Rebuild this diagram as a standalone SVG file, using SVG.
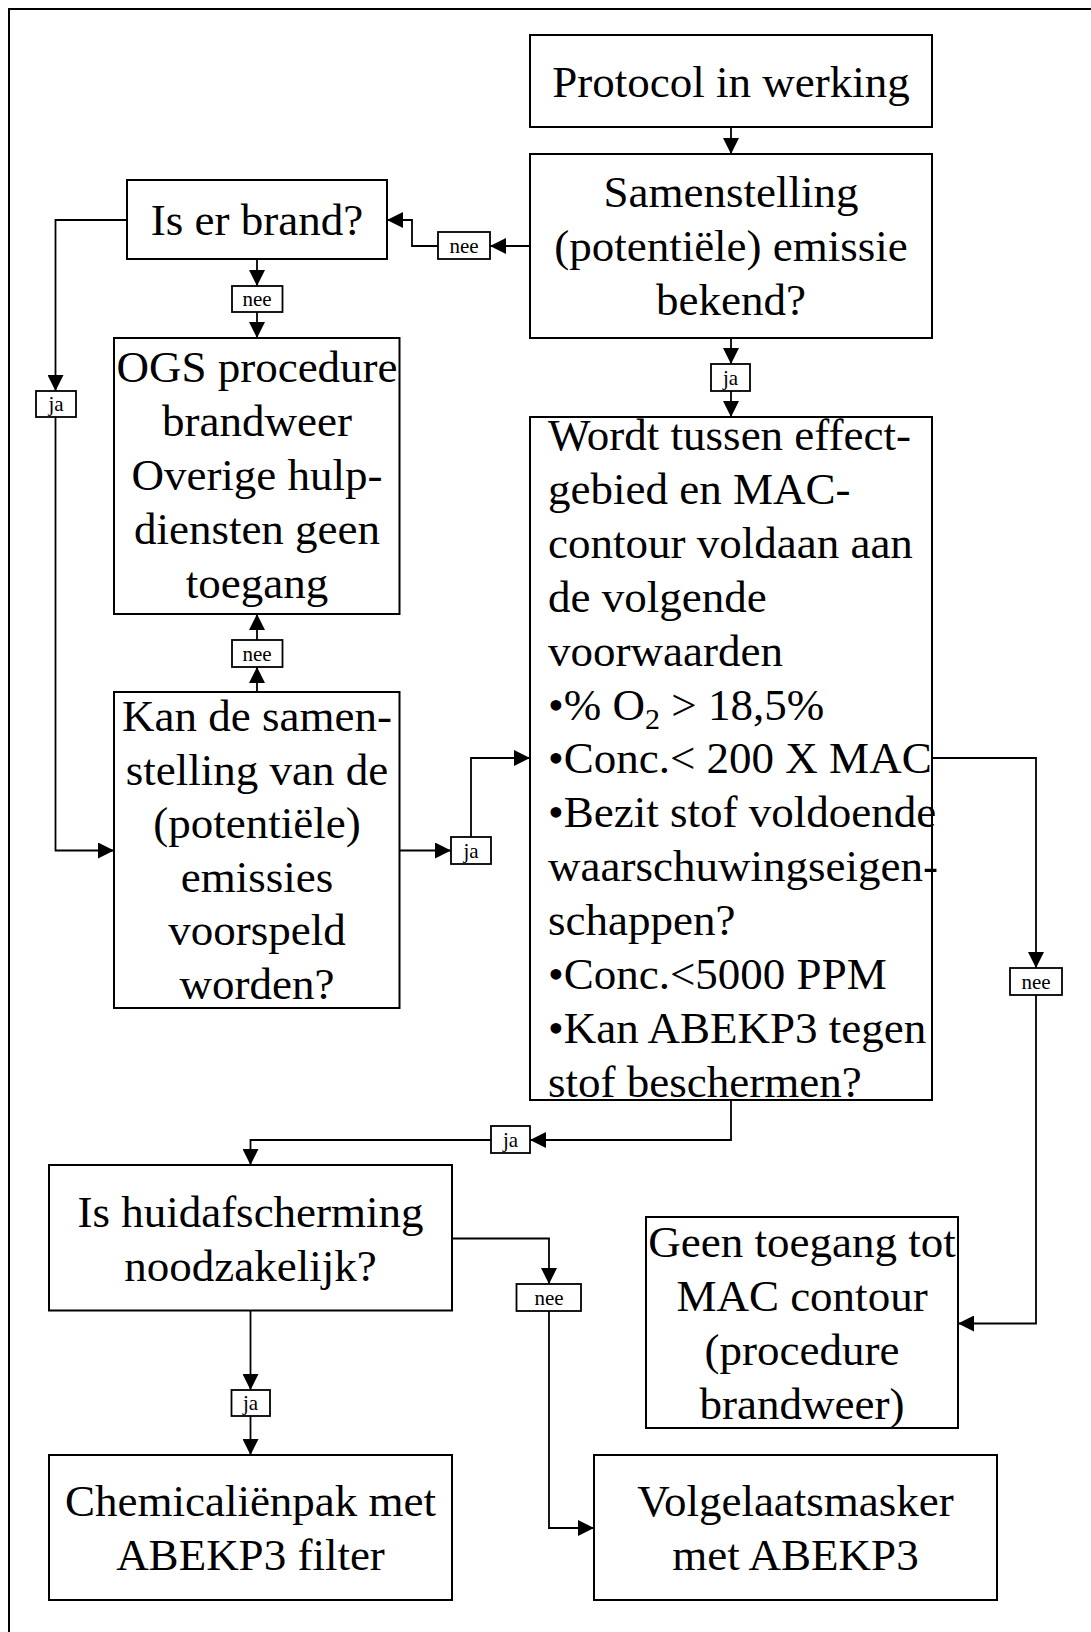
<svg xmlns="http://www.w3.org/2000/svg" width="1091" height="1632" viewBox="0 0 1091 1632">
<style>
.box{fill:#fff;stroke:#000;stroke-width:2}
.lbl{fill:#fff;stroke:#000;stroke-width:1.8}
.t{font-family:"Liberation Serif","Times New Roman",serif;font-size:45px;fill:#000}
.c{text-anchor:middle}
.s{font-family:"Liberation Serif","Times New Roman",serif;font-size:21px;fill:#000;text-anchor:middle}
.ln{fill:none;stroke:#000;stroke-width:1.8;marker-end:url(#ah)}
</style>
<defs>
<marker id="ah" markerUnits="userSpaceOnUse" markerWidth="16" markerHeight="16" refX="16" refY="8" orient="auto">
<path d="M0,0 L16,8 L0,16 z" fill="#000"/>
</marker>
<clipPath id="wclip"><rect x="520" y="410" width="500" height="690"/></clipPath>
</defs>
<rect x="9" y="9" width="1100" height="1650" fill="none" stroke="#000" stroke-width="2"/>

<g id="connectors">
<path class="ln" d="M731,127 V154"/>
<path class="ln" d="M731,338 V364"/>
<path class="ln" d="M731,391 V417"/>
<path class="ln" d="M530,246 H490"/>
<path class="ln" d="M438,246 H412 V220 H387"/>
<path class="ln" d="M257,259 V286"/>
<path class="ln" d="M257,312 V338"/>
<path class="ln" d="M127,220 H55.5 V391"/>
<path class="ln" d="M55.5,417 V850.5 H114"/>
<path class="ln" d="M257,692 V667"/>
<path class="ln" d="M257,640 V614"/>
<path class="ln" d="M400,850.5 H451"/>
<path class="ln" d="M471,837 V758 H530"/>
<path class="ln" d="M932,758 H1036 V968"/>
<path class="ln" d="M1036,995 V1323.5 H958"/>
<path class="ln" d="M731,1100 V1140 H530"/>
<path class="ln" d="M491,1140 H250.5 V1165"/>
<path class="ln" d="M452,1238.5 H549 V1284"/>
<path class="ln" d="M549,1311 V1528 H594"/>
<path class="ln" d="M250.5,1310 V1390"/>
<path class="ln" d="M250.5,1416 V1455"/>
</g>

<g id="lbl-nee1"><rect class="lbl" x="438" y="232" width="52" height="27"/><text class="s" x="464" y="253">nee</text></g>
<g id="lbl-ja1"><rect class="lbl" x="711" y="364" width="39" height="27"/><text class="s" x="730.5" y="385">ja</text></g>
<g id="lbl-nee2"><rect class="lbl" x="232" y="286" width="50.5" height="26"/><text class="s" x="257" y="306">nee</text></g>
<g id="lbl-ja2"><rect class="lbl" x="36" y="391" width="40" height="26"/><text class="s" x="56" y="411">ja</text></g>
<g id="lbl-nee3"><rect class="lbl" x="232" y="640" width="50.5" height="27"/><text class="s" x="257" y="661">nee</text></g>
<g id="lbl-ja3"><rect class="lbl" x="451" y="837" width="40" height="27"/><text class="s" x="471" y="858">ja</text></g>
<g id="lbl-nee4"><rect class="lbl" x="1010" y="968" width="52" height="27"/><text class="s" x="1036" y="989">nee</text></g>
<g id="lbl-ja4"><rect class="lbl" x="491" y="1126" width="39" height="27"/><text class="s" x="510.5" y="1147">ja</text></g>
<g id="lbl-nee5"><rect class="lbl" x="516.5" y="1284" width="64.5" height="27"/><text class="s" x="549" y="1305">nee</text></g>
<g id="lbl-ja5"><rect class="lbl" x="231.5" y="1390" width="38.5" height="26"/><text class="s" x="250.5" y="1410">ja</text></g>

<g id="n-protocol"><rect class="box" x="530" y="35" width="402" height="92"/>
<text class="t c" x="731" y="97">Protocol in werking</text></g>

<g id="n-samenstelling"><rect class="box" x="530" y="154" width="402" height="184"/>
<text class="t c" x="731" y="207">Samenstelling</text>
<text class="t c" x="731" y="261">(potentiële) emissie</text>
<text class="t c" x="731" y="315">bekend?</text></g>

<g id="n-brand"><rect class="box" x="127" y="180" width="260" height="79"/>
<text class="t c" x="257" y="235">Is er brand?</text></g>

<g id="n-ogs"><rect class="box" x="114" y="338" width="285.5" height="276"/>
<text class="t c" x="257" y="382">OGS procedure</text>
<text class="t c" x="257" y="436">brandweer</text>
<text class="t c" x="257" y="490">Overige hulp-</text>
<text class="t c" x="257" y="544">diensten geen</text>
<text class="t c" x="257" y="598">toegang</text></g>

<g id="n-kan"><rect class="box" x="114" y="692" width="285.5" height="316"/>
<text class="t c" x="257" y="731">Kan de samen-</text>
<text class="t c" x="257" y="785">stelling van de</text>
<text class="t c" x="257" y="838">(potentiële)</text>
<text class="t c" x="257" y="892">emissies</text>
<text class="t c" x="257" y="945">voorspeld</text>
<text class="t c" x="257" y="999">worden?</text></g>

<g id="n-wordt"><rect class="box" x="530" y="417" width="402" height="683"/>
<g clip-path="url(#wclip)">
<text class="t" x="548" y="450">Wordt tussen effect-</text>
<text class="t" x="548" y="504">gebied en MAC-</text>
<text class="t" x="548" y="558">contour voldaan aan</text>
<text class="t" x="548" y="612">de volgende</text>
<text class="t" x="548" y="666">voorwaarden</text>
<text class="t" x="548" y="720">•% O<tspan font-size="30" dy="9">2</tspan><tspan dy="-9"> &gt; 18,5%</tspan></text>
<text class="t" x="548" y="773">•Conc.&lt; 200 X MAC</text>
<text class="t" x="548" y="827">•Bezit stof voldoende</text>
<text class="t" x="548" y="881">waarschuwingseigen-</text>
<text class="t" x="548" y="935">schappen?</text>
<text class="t" x="548" y="989">•Conc.&lt;5000 PPM</text>
<text class="t" x="548" y="1043">•Kan ABEKP3 tegen</text>
<text class="t" x="548" y="1097">stof beschermen?</text>
</g></g>

<g id="n-huid"><rect class="box" x="49" y="1165" width="403" height="145.5"/>
<text class="t c" x="250.5" y="1227">Is huidafscherming</text>
<text class="t c" x="250.5" y="1281">noodzakelijk?</text></g>

<g id="n-geen"><rect class="box" x="646" y="1217" width="312" height="211"/>
<text class="t c" x="802" y="1257">Geen toegang tot</text>
<text class="t c" x="802" y="1311">MAC contour</text>
<text class="t c" x="802" y="1365">(procedure</text>
<text class="t c" x="802" y="1419">brandweer)</text></g>

<g id="n-chem"><rect class="box" x="49" y="1455" width="403" height="145"/>
<text class="t c" x="250.5" y="1516">Chemicaliënpak met</text>
<text class="t c" x="250.5" y="1570">ABEKP3 filter</text></g>

<g id="n-volg"><rect class="box" x="594" y="1455" width="403" height="145"/>
<text class="t c" x="795.5" y="1516">Volgelaatsmasker</text>
<text class="t c" x="795.5" y="1570">met ABEKP3</text></g>
</svg>
